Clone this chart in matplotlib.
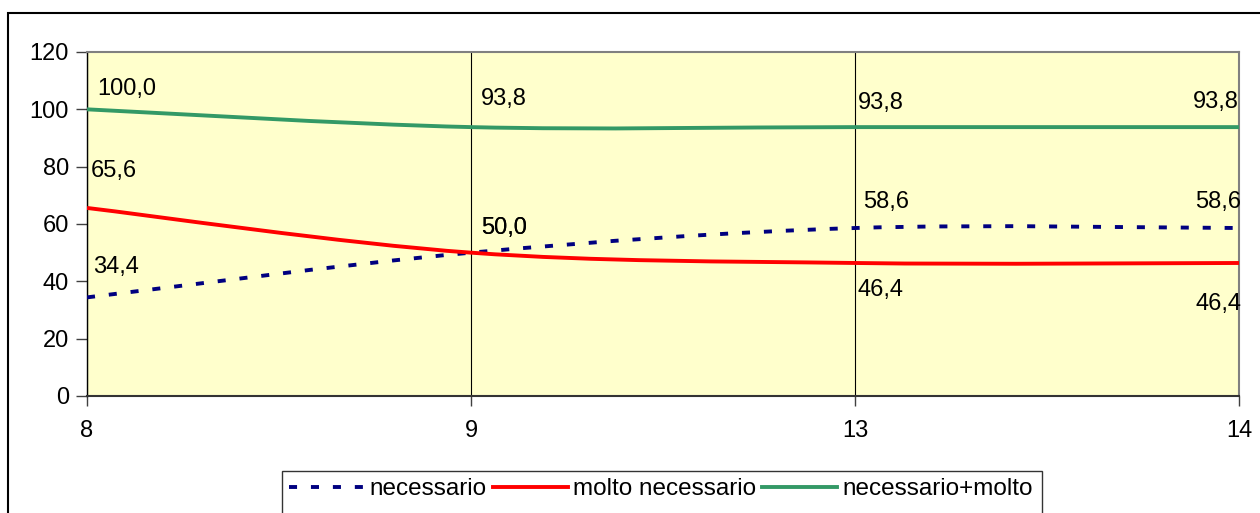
import numpy as np
import matplotlib
matplotlib.use('Agg')
import matplotlib.pyplot as plt
from matplotlib.path import Path
from matplotlib.patches import PathPatch, Rectangle
from matplotlib.lines import Line2D

plt.rcParams['font.family'] = ['Liberation Sans', 'DejaVu Sans']

# data
categories = ['8', '9', '13', '14']
necessario = [34.4, 50.0, 58.6, 58.6]
molto = [65.6, 50.0, 46.4, 46.4]
somma = [100.0, 93.8, 93.8, 93.8]
series_names = ['necessario', 'molto necessario', 'necessario+molto']

# label placement (dx, dy in pixels from the point, horizontal alignment)
off_nec = [(6, 24, 'left'), (10, 19, 'left'), (8, 20, 'left'), (2, 20, 'right')]
off_molto = [(4, 31, 'left'), (10, 19, 'left'), (3, -33, 'left'), (2, -47, 'right')]
off_somma = [(10, 14, 'left'), (10, 22, 'left'), (3, 18, 'left'), (0, 19, 'right')]


def smooth_path(x, y):
    # excel style smoothed line, catmull-rom segments as cubic beziers
    pts = np.column_stack([x, y]).astype(float)
    p = np.vstack([pts[:1], pts, pts[-1:]])
    verts = [pts[0]]
    codes = [Path.MOVETO]
    for i in range(1, len(p) - 2):
        c1 = p[i] + (p[i + 1] - p[i - 1]) / 6
        c2 = p[i + 1] - (p[i + 2] - p[i]) / 6
        verts += [c1, c2, p[i + 1]]
        codes += [Path.CURVE4] * 3
    return Path(verts, codes)


fig = plt.figure(figsize=(12.6, 5.13), dpi=100)
ax = fig.add_axes([87/1260, 1 - 396/513, (1239 - 87)/1260, (396 - 52)/513])
ax.set_facecolor('#FFFFCC')

x = np.arange(len(categories))
lw = 2.8
styles = [
    dict(color='#000080', ls=(0, (5.8/lw, 10.0/lw))),
    dict(color='#FF0000', ls='-'),
    dict(color='#339966', ls='-'),
]
handles = []
for vals, st, offs in zip([necessario, molto, somma], styles,
                          [off_nec, off_molto, off_somma]):
    patch = PathPatch(smooth_path(x, vals), fill=False, ec=st['color'],
                      lw=lw, ls=st['ls'], transform=ax.transData, zorder=3,
                      capstyle='butt')
    ax.add_patch(patch)
    handles.append(Line2D([], [], color=st['color'], lw=lw, ls=st['ls']))
    for xi, v, (dx, dy, ha) in zip(x, vals, offs):
        ax.annotate(f'{v:.1f}'.replace('.', ','), (xi, v), xytext=(dx, dy),
                    textcoords='offset pixels', ha=ha, va='baseline',
                    fontsize=17, color='black', zorder=4,
                    annotation_clip=False)

ax.set_xlim(0, 3)
ax.set_ylim(0, 120)
ax.set_yticks(range(0, 121, 20))
ax.set_xticks(x, categories)
ax.grid(axis='x', color='black', lw=0.8)
ax.set_axisbelow(True)
ax.tick_params(axis='y', direction='out', length=8, width=1, color='#404040',
               pad=5, labelsize=17)
ax.tick_params(axis='x', direction='out', length=7, width=1, color='#404040',
               pad=10, labelsize=17)
ax.spines['left'].set_color('black')
ax.spines['left'].set_lw(1)
ax.spines['bottom'].set_color('#333333')
ax.spines['bottom'].set_lw(1.5)
for s in ['top', 'right']:
    ax.spines[s].set_color('#808080')
    ax.spines[s].set_lw(1.5)

# outer chart frame, runs off the right and bottom edge
fig.patches.append(Rectangle((8/1260, -0.1), 1.2, 1 - 13/513 + 0.1,
                             transform=fig.transFigure, fill=False,
                             ec='black', lw=1.5))
# legend frame, cut at the bottom
fig.patches.append(Rectangle((282/1260, -0.1), (1042 - 282)/1260,
                             1 - 471/513 + 0.1, transform=fig.transFigure,
                             fill=False, ec='#333333', lw=1))
fig.legend(handles, series_names, loc='upper left',
           bbox_to_anchor=(282/1260, 1 - 471/513), ncol=3, frameon=False,
           fontsize=17.5, handlelength=3.1, handletextpad=0.2,
           columnspacing=0.25, borderpad=0.3, borderaxespad=0)

fig.savefig('out.png', dpi=100)
